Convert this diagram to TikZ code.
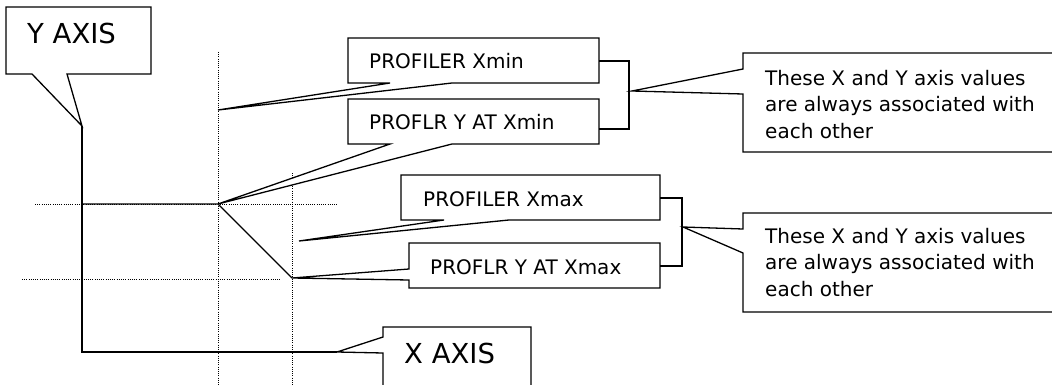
\documentclass[tikz,border=0pt]{standalone}
\usepackage{fontspec}
\setmainfont{DejaVu Sans}
\begin{document}
\begin{tikzpicture}[x=1pt,y=-1pt,
  solidln/.style={line width=1.3pt, line join=miter},
  dotln/.style={line width=0.9pt, dash pattern=on 1pt off 1.2pt},
  callout/.style={draw, line width=1.3pt, fill=white, line join=miter},
  lbl/.style={anchor=base west, inner sep=0pt, font=\fontsize{20}{26}\selectfont},
  biglbl/.style={anchor=base west, inner sep=0pt, font=\fontsize{27.5}{30}\selectfont},
  notelbl/.style={anchor=north west, inner sep=0pt, align=left, font=\fontsize{20}{26.5}\selectfont}]
\useasboundingbox (0,0) rectangle (1052,385);
\clip (0,0) rectangle (1052,385);
\fill[white] (0,0) rectangle (1052,385);

% guide coordinates
\coordinate (ytop) at (82,126);
\coordinate (origin) at (82,352);
\coordinate (xend) at (337,352);
\coordinate (ystart) at (82,204);
\coordinate (pmin) at (218,204);
\coordinate (pmax) at (292,278);
\coordinate (xminaxis) at (218,110);
\coordinate (xmaxaxis) at (299,241);
\coordinate (brA) at (632,91);
\coordinate (brB) at (683,227);

% dotted guides
\draw[dotln] (218,52) -- (218,390);
\draw[dotln] (292,173) -- (292,390);
\draw[dotln] (35,204) -- (337,204);
\draw[dotln] (22,279) -- (280,279);

% axes and profile
\draw[solidln] (ytop) -- (origin) -- (xend);
\draw[solidln] (ystart) -- (pmin) -- (pmax);

% callouts
\draw[callout] (6,7) -- (151,7) -- (151,74) -- (67,74) -- (ytop) -- (32,74) -- (6,74) -- cycle;
\draw[callout] (348,38) -- (599,38) -- (599,83) -- (452,83) -- (xminaxis) -- (390,83) -- (348,83) -- cycle;
\draw[callout] (348,99) -- (599,99) -- (599,144) -- (452,144) -- (pmin) -- (390,144) -- (348,144) -- cycle;
\draw[callout] (401,175) -- (660,175) -- (660,220) -- (509,220) -- (xmaxaxis) -- (444,220) -- (401,220) -- cycle;
\draw[callout] (409,243) -- (660,243) -- (660,288) -- (409,288) -- (409,280) -- (pmax) -- (409,269) -- cycle;
\draw[callout] (383,327) -- (531,327) -- (531,400) -- (383,400) -- (383,353) -- (xend) -- (383,337) -- cycle;
\draw[callout] (743,53) -- (1060,53) -- (1060,152) -- (743,152) -- (743,94) -- (brA) -- (743,69) -- cycle;
\draw[callout] (743,213) -- (1060,213) -- (1060,312) -- (743,312) -- (743,253) -- (brB) -- (743,229) -- cycle;

% brackets
\draw[solidln] (599,61) -- (629,61) -- (629,129) -- (599,129);
\draw[solidln] (660,198) -- (682,198) -- (682,266) -- (660,266);

% texts
\node[biglbl] (yaxis) at (27,44) {Y AXIS};
\node[biglbl] (xaxis) at (404,363) {X AXIS};
\node[lbl] (pxmin) at (369,69) {PROFILER Xmin};
\node[lbl] (pymin) at (369,130) {PROFLR Y AT Xmin};
\node[lbl] (pxmax) at (423,206) {PROFILER Xmax};
\node[lbl] (pymax) at (430,274) {PROFLR Y AT Xmax};
\node[notelbl] (noteA) at (765,69.7) {These X and Y axis values\\are always associated with\\each other};
\node[notelbl] (noteB) at (765,227.7) {These X and Y axis values\\are always associated with\\each other};
\end{tikzpicture}
\end{document}
